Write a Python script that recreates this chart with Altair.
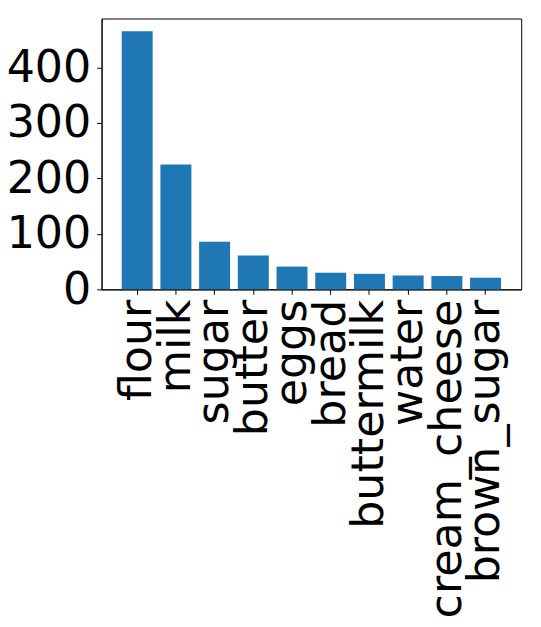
import altair as alt
import pandas as pd

ingredients = ["flour", "milk", "sugar", "butter", "eggs", "bread",
               "buttermilk", "water", "cream_cheese", "brown_sugar"]
counts = [465, 225, 86, 61, 41, 30, 28, 25, 24, 21]

df = pd.DataFrame({"ingredient": ingredients, "count": counts})

FONT = "DejaVu Sans"

chart = alt.Chart(df).mark_bar(color="#1f77b4").encode(
    x=alt.X("ingredient:N", sort=ingredients, title=None,
            scale=alt.Scale(paddingInner=0.2, paddingOuter=0.52),
            axis=alt.Axis(labelAngle=270, labelFont=FONT, labelFontSize=45,
                          labelColor="black", tickColor="black", tickSize=5,
                          tickWidth=1, domainColor="black", domainWidth=1,
                          labelPadding=5, labelOverlap=False, labelLimit=1000,
                          grid=False)),
    y=alt.Y("count:Q", title=None,
            scale=alt.Scale(domain=[0, 488], nice=False, zero=True),
            axis=alt.Axis(values=[0, 100, 200, 300, 400], labelFont=FONT,
                          labelFontSize=45, labelColor="black",
                          tickColor="black", tickSize=5, tickWidth=1,
                          domainColor="black", domainWidth=1, labelPadding=6,
                          grid=False, labelBaseline="middle")),
).properties(
    width=426, height=275,
    autosize=alt.AutoSizeParams(type="none"),
    padding={"left": 95, "top": 6, "right": 12, "bottom": 330},
).configure_view(stroke="black", strokeWidth=1)

chart.save("out.html", embed_options={"renderer": "svg", "actions": False})
